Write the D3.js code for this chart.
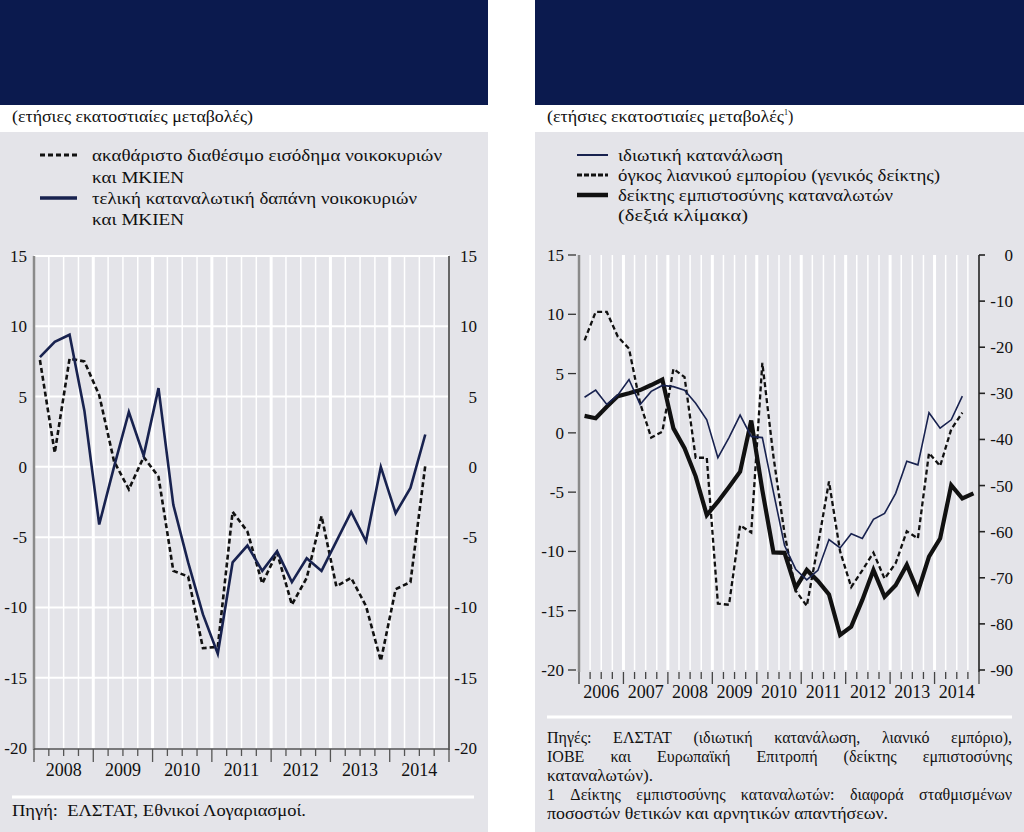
<!DOCTYPE html>
<html><head><meta charset="utf-8">
<script src="https://cdn.jsdelivr.net/npm/d3@7"></script>
<style>
html,body{margin:0;padding:0;background:#fff;}
svg{display:block;font-family:"Liberation Serif","DejaVu Serif","Times New Roman",serif;}
</style></head>
<body>
<svg id="chart" width="1024" height="832"></svg>
<script>
// ---------- DATA ----------
// Left chart: quarterly, 2008Q1 .. 2014Q3 (annual % changes)
const leftYears = [2008, 2009, 2010, 2011, 2012, 2013, 2014];
const leftTicks = [15, 10, 5, 0, -5, -10, -15, -20];
const leftIncome = [7.6, 1.0, 7.7, 7.5, 5.1, 0.4, -1.6, 0.7, -0.7, -7.4, -7.8, -12.9, -12.8, -3.2, -4.6, -8.3, -6.1, -9.8, -7.9, -3.5, -8.5, -7.9, -9.9, -13.8, -8.7, -8.2, 0.1];
const leftSpending = [7.8, 8.9, 9.4, 4.0, -4.1, 0.0, 3.9, 0.8, 5.6, -2.7, -6.8, -10.5, -13.3, -6.8, -5.6, -7.4, -6.0, -8.2, -6.5, -7.4, -5.3, -3.2, -5.3, 0.0, -3.3, -1.5, 2.3];
const leftLegend = ["ακαθάριστο διαθέσιμο εισόδημα νοικοκυριών", "και ΜΚΙΕΝ", "τελική καταναλωτική δαπάνη νοικοκυριών", "και ΜΚΙΕΝ"];

// Right chart: quarterly, 2006Q1 .. 2014Q4
const rightYears = [2006, 2007, 2008, 2009, 2010, 2011, 2012, 2013, 2014];
const rightTicksL = [15, 10, 5, 0, -5, -10, -15, -20];
const rightTicksR = [0, -10, -20, -30, -40, -50, -60, -70, -80, -90];
const privConsumption = [3.0, 3.6, 2.4, 3.2, 4.5, 2.4, 3.5, 4.0, 3.9, 3.6, 2.5, 1.1, -2.1, -0.4, 1.5, -0.3, -0.4, -5.0, -9.5, -11.5, -12.4, -11.6, -9.0, -9.7, -8.5, -8.9, -7.3, -6.8, -5.1, -2.4, -2.7, 1.7, 0.4, 1.1, 3.1];
const retailVolume = [7.8, 10.2, 10.2, 8.1, 7.1, 2.5, -0.4, 0.1, 5.4, 4.7, -2.1, -2.1, -14.4, -14.5, -7.8, -8.4, 5.9, -2.0, -8.5, -13.3, -14.6, -9.5, -4.1, -10.0, -13.0, -11.6, -10.1, -12.3, -11.0, -8.3, -8.9, -1.7, -2.8, 0.3, 1.7];
const confidence = [-34.9, -35.4, -32.9, -30.6, -30.0, -29.3, -28.2, -27.0, -37.6, -41.9, -48.0, -56.4, -53.5, -50.3, -47.0, -35.9, -51.0, -64.5, -64.6, -72.2, -68.3, -70.7, -73.6, -82.4, -80.6, -74.8, -68.3, -74.1, -71.6, -67.2, -73.0, -65.4, -61.5, -49.9, -52.8, -51.7];
const rightLegend = ["ιδιωτική κατανάλωση", "όγκος λιανικού εμπορίου (γενικός δείκτης)", "δείκτης εμπιστοσύνης καταναλωτών", "(δεξιά κλίμακα)"];

const leftSubtitle = "(ετήσιες εκατοστιαίες μεταβολές)";
const rightSubtitle = "(ετήσιες εκατοστιαίες μεταβολές";
const leftSource = "Πηγή:  ΕΛΣΤΑΤ, Εθνικοί Λογαριασμοί.";
const rightSource = [
  ["Πηγές: ΕΛΣΤΑΤ (ιδιωτική κατανάλωση, λιανικό εμπόριο),", true],
  ["ΙΟΒΕ και Ευρωπαϊκή Επιτροπή (δείκτης εμπιστοσύνης", true],
  ["καταναλωτών).", false],
  ["1 Δείκτης εμπιστοσύνης καταναλωτών: διαφορά σταθμισμένων", true],
  ["ποσοστών θετικών και αρνητικών απαντήσεων.", false]
];

// ---------- STYLE ----------
const NAVY_BG = "#0b1a4e";
const PANEL = "#e4e4e9";
const LINE_NAVY = "#18224f";

const svg = d3.select("#chart");
svg.append("rect").attr("width", 1024).attr("height", 832).attr("fill", "#fff");

// fit a text element to a target width (layout fidelity)
function fit(sel, w) {
  const cur = sel.node().getComputedTextLength();
  if (Math.abs(cur - w) > 2) sel.attr("textLength", w).attr("lengthAdjust", "spacingAndGlyphs");
  return sel;
}

// panels
[[0, 488], [535, 489]].forEach(([x, w]) => {
  svg.append("rect").attr("x", x).attr("y", 0).attr("width", w).attr("height", 105).attr("fill", NAVY_BG);
  svg.append("rect").attr("x", x).attr("y", 132).attr("width", w).attr("height", 700).attr("fill", PANEL);
});

fit(svg.append("text").attr("x", 12).attr("y", 122).attr("font-size", 16).attr("fill", "#111").text(leftSubtitle), 241);
const rs = svg.append("text").attr("x", 547).attr("y", 122).attr("font-size", 16).attr("fill", "#111");
fit(rs.append("tspan").text(rightSubtitle), 237);
rs.append("tspan").attr("font-size", 8).attr("dy", -7).text("1");
rs.append("tspan").attr("dy", 7).text(")");

// ---------- LEFT CHART ----------
const xL = d3.scaleLinear().domain([0, leftYears.length * 4]).range([34, 449]);
const yL = d3.scaleLinear().domain([-20, 15]).range([748, 256]);
const gL = svg.append("g");

gL.selectAll(".hg").data(leftTicks.filter(t => t > -20)).join("line")
  .attr("x1", xL(0)).attr("x2", xL(28)).attr("y1", d => yL(d)).attr("y2", d => yL(d))
  .attr("stroke", "#fff").attr("stroke-width", 2);
gL.selectAll(".vg").data(d3.range(1, 28)).join("line")
  .attr("x1", d => xL(d)).attr("x2", d => xL(d)).attr("y1", yL(15)).attr("y2", yL(-20))
  .attr("stroke", "#fff").attr("stroke-width", d => d % 4 === 0 ? 3 : 1.5);
gL.append("line").attr("x1", xL(0)).attr("x2", xL(0)).attr("y1", yL(15)).attr("y2", 750).attr("stroke", "#8a8a8a").attr("stroke-width", 2.5);
gL.append("line").attr("x1", xL(28)).attr("x2", xL(28)).attr("y1", yL(15)).attr("y2", 750).attr("stroke", "#666").attr("stroke-width", 2);
gL.append("line").attr("x1", xL(0)).attr("x2", xL(28)).attr("y1", 749).attr("y2", 749).attr("stroke", "#555").attr("stroke-width", 1.3);
gL.selectAll(".xt").data(d3.range(0, 29)).join("line")
  .attr("x1", d => xL(d)).attr("x2", d => xL(d)).attr("y1", 749).attr("y2", d => d % 4 === 0 ? 762 : 756)
  .attr("stroke", "#555").attr("stroke-width", 1.3);
gL.selectAll(".yl").data(leftTicks).join("text")
  .attr("x", 27).attr("y", d => yL(d)).attr("dy", "0.35em").attr("text-anchor", "end")
  .attr("font-size", 17).attr("fill", "#111").text(d => d);
gL.selectAll(".yr").data(leftTicks).join("text")
  .attr("x", 477).attr("y", d => yL(d)).attr("dy", "0.35em").attr("text-anchor", "end")
  .attr("font-size", 17).attr("fill", "#111").text(d => d);
gL.selectAll(".yrs").data(leftYears).join("text")
  .attr("x", (d, i) => xL(i * 4 + 2)).attr("y", 776).attr("text-anchor", "middle")
  .attr("font-size", 18).attr("fill", "#111").text(d => d);

const lineL = d3.line().x((d, i) => xL(i + 0.4)).y(d => yL(d));
gL.append("path").attr("d", lineL(leftIncome)).attr("fill", "none").attr("stroke", "#111")
  .attr("stroke-width", 2.6).attr("stroke-dasharray", "5,3");
gL.append("path").attr("d", lineL(leftSpending)).attr("fill", "none").attr("stroke", LINE_NAVY)
  .attr("stroke-width", 2.6);

// left legend
gL.append("line").attr("x1", 40).attr("x2", 77).attr("y1", 155).attr("y2", 155)
  .attr("stroke", "#111").attr("stroke-width", 3).attr("stroke-dasharray", "5,3");
gL.append("line").attr("x1", 40).attr("x2", 77).attr("y1", 198).attr("y2", 198)
  .attr("stroke", LINE_NAVY).attr("stroke-width", 3.5);
const leftLegendW = [350, 92, 325, 92];
[161, 183, 204, 225].forEach((y, i) => {
  fit(gL.append("text").attr("x", 92).attr("y", y).attr("font-size", 17).attr("fill", "#111").text(leftLegend[i]), leftLegendW[i]);
});
svg.append("line").attr("x1", 12).attr("x2", 474).attr("y1", 797).attr("y2", 797).attr("stroke", "#fff").attr("stroke-width", 3);
fit(svg.append("text").attr("x", 12).attr("y", 816).attr("font-size", 16).attr("fill", "#111")
  .style("white-space", "pre").text(leftSource), 294);

// ---------- RIGHT CHART ----------
const xR = d3.scaleLinear().domain([0, rightYears.length * 4]).range([579, 979]);
const yR = d3.scaleLinear().domain([-20, 15]).range([670, 255]);
const yR2 = d3.scaleLinear().domain([-90, 0]).range([670, 255]);
const gR = svg.append("g");

gR.selectAll(".vg").data(d3.range(1, 36)).join("line")
  .attr("x1", d => xR(d)).attr("x2", d => xR(d)).attr("y1", yR(15)).attr("y2", yR(-20))
  .attr("stroke", "#fff").attr("stroke-width", d => d % 4 === 0 ? 3 : 1.5);
gR.append("line").attr("x1", xR(0)).attr("x2", xR(0)).attr("y1", yR(15)).attr("y2", 672).attr("stroke", "#8a8a8a").attr("stroke-width", 2.5);
gR.append("line").attr("x1", xR(36)).attr("x2", xR(36)).attr("y1", yR(15)).attr("y2", 672).attr("stroke", "#222").attr("stroke-width", 1.6);
gR.selectAll(".xt").data(d3.range(0, 37)).join("line")
  .attr("x1", d => xR(d)).attr("x2", d => xR(d)).attr("y1", 672).attr("y2", d => d % 4 === 0 ? 684 : 679)
  .attr("stroke", "#444").attr("stroke-width", 1.3);
gR.selectAll(".ltk").data(rightTicksL).join("line")
  .attr("x1", 568).attr("x2", 576).attr("y1", d => yR(d)).attr("y2", d => yR(d))
  .attr("stroke", "#333").attr("stroke-width", 1.3);
gR.selectAll(".ltl").data(rightTicksL).join("text")
  .attr("x", 564).attr("y", d => yR(d)).attr("dy", "0.35em").attr("text-anchor", "end")
  .attr("font-size", 17).attr("fill", "#111").text(d => d);
gR.selectAll(".rtk").data(rightTicksR).join("line")
  .attr("x1", 979).attr("x2", 985).attr("y1", d => yR2(d)).attr("y2", d => yR2(d))
  .attr("stroke", "#222").attr("stroke-width", 1.6);
gR.selectAll(".rtl").data(rightTicksR).join("text")
  .attr("x", 1013).attr("y", d => yR2(d)).attr("dy", "0.35em").attr("text-anchor", "end")
  .attr("font-size", 17).attr("fill", "#111").text(d => d);
gR.selectAll(".yrs").data(rightYears).join("text")
  .attr("x", (d, i) => xR(i * 4 + 2)).attr("y", 698).attr("text-anchor", "middle")
  .attr("font-size", 18).attr("fill", "#111").text(d => d);

const lineR = d3.line().x((d, i) => xR(i + 0.5)).y(d => yR(d));
const lineR2 = d3.line().x((d, i) => xR(i + 0.5)).y(d => yR2(d));
gR.append("path").attr("d", lineR(retailVolume)).attr("fill", "none").attr("stroke", "#111")
  .attr("stroke-width", 2.3).attr("stroke-dasharray", "5,3");
gR.append("path").attr("d", lineR2(confidence)).attr("fill", "none").attr("stroke", "#111")
  .attr("stroke-width", 4.2);
gR.append("path").attr("d", lineR(privConsumption)).attr("fill", "none").attr("stroke", LINE_NAVY)
  .attr("stroke-width", 1.6);

// right legend
gR.append("line").attr("x1", 577).attr("x2", 608).attr("y1", 155).attr("y2", 155).attr("stroke", LINE_NAVY).attr("stroke-width", 2);
gR.append("line").attr("x1", 577).attr("x2", 608).attr("y1", 175).attr("y2", 175).attr("stroke", "#111").attr("stroke-width", 3).attr("stroke-dasharray", "5,2");
gR.append("line").attr("x1", 577).attr("x2", 608).attr("y1", 195).attr("y2", 195).attr("stroke", "#111").attr("stroke-width", 4.5);
const rightLegendW = [165, 322, 275, 130];
[161, 181, 201, 221].forEach((y, i) => {
  fit(gR.append("text").attr("x", 618).attr("y", y).attr("font-size", 16).attr("fill", "#111").text(rightLegend[i]), rightLegendW[i]);
});

svg.append("line").attr("x1", 547).attr("x2", 1012).attr("y1", 717).attr("y2", 717).attr("stroke", "#fff").attr("stroke-width", 3);
const srcY = [743, 762, 781, 800, 819];
const srcPlainW = [0, 0, 106, 0, 341];
rightSource.forEach(([txt, just], li) => {
  const y = srcY[li];
  if (!just) {
    fit(svg.append("text").attr("x", 547).attr("y", y).attr("font-size", 16).attr("fill", "#111").text(txt), srcPlainW[li]);
    return;
  }
  const words = txt.split(" ");
  const nodes = words.map(w => svg.append("text").attr("y", y).attr("font-size", 16).attr("fill", "#111").text(w));
  const widths = nodes.map(n => n.node().getComputedTextLength());
  const total = d3.sum(widths);
  const gap = (1012 - 547 - total) / (words.length - 1);
  let x = 547;
  nodes.forEach((n, i) => { n.attr("x", x); x += widths[i] + gap; });
});
</script>
</body></html>
